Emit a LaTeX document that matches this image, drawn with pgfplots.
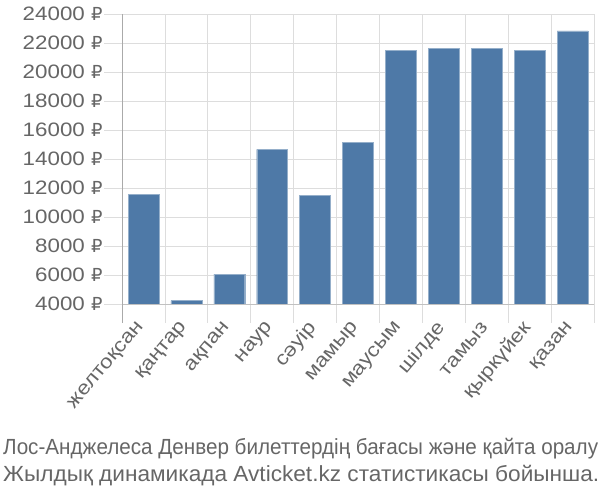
\documentclass[border=0pt]{standalone}
\usepackage{graphicx}
\usepackage{pgfplots}
\pgfplotsset{compat=1.18}
\usepackage{fontspec}
\setmainfont{Liberation Sans}
\newfontfamily\tickfont[FakeStretch=1.15]{Liberation Sans}
\newfontfamily\rubfont{DejaVu Sans}
\definecolor{barblue}{HTML}{4E79A7}
\definecolor{txt}{HTML}{666666}
\definecolor{gridc}{HTML}{DDDDDD}
\definecolor{axc}{HTML}{AAAAAA}
\begin{document}
\begin{tikzpicture}[x=1bp,y=1bp]
\path[use as bounding box] (0,0) rectangle (600,500);
\begin{axis}[
  at={(122bp,196bp)}, anchor=south west,
  width=472bp, height=289.7bp, scale only axis,
  xmin=-0.5, xmax=10.5, ymin=4000, ymax=24000,
  ybar, bar width=0.72,
  axis x line*=bottom, axis y line*=left,
  x axis line style={draw=gridc!70!gray, -},
  y axis line style={draw=axc, -},
  xtick={0,...,10},
  xticklabels={желтоқсан,қаңтар,ақпан,наур,сәуір,мамыр,маусым,шілде,тамыз,қыркүйек,қазан},
  minor xtick={-0.5,0.5,...,10.5},
  xminorgrids=true, ymajorgrids=true,
  grid style={draw=gridc, line width=0.8pt},
  minor grid style={draw=gridc, line width=0.8pt},
  tick align=outside,
  major tick length=18bp, minor tick length=19bp,
  major x tick style={draw=none},
  minor x tick style={draw=gridc, line width=0.8pt},
  major y tick style={draw=gridc, line width=0.8pt},
  ytick={4000,6000,...,24000},
  scaled y ticks=false,
  /pgf/number format/assume math mode=true,
  /pgf/number format/1000 sep={},
  yticklabel={\pgfmathprintnumber{\tick} {\rubfont\fontsize{18}{18}\selectfont ₽}},
  yticklabel style={font=\tickfont\fontsize{19.5}{19.5}\selectfont, text=txt, xshift=2bp},
  xticklabel style={rotate=50, anchor=east, font=\tickfont\fontsize{19.5}{19.5}\selectfont, text=txt},
  clip=true,
]
\addplot[fill=barblue, draw=barblue!60!white, line width=0.4pt] coordinates {
(0,11580) (1,4230) (2,6070) (3,14680) (4,11480) (5,15140)
(6,21490) (7,21660) (8,21660) (9,21490) (10,22850)};
\end{axis}
\draw[axc, line width=0.8pt] (122,196) -- (122,177);
\node[anchor=base west, text=txt, font=\fontsize{22}{22}\selectfont, inner sep=0pt] at (3,45) {\resizebox{595bp}{\height}{Лос-Анджелеса Денвер билеттердің бағасы және қайта оралу}};
\node[anchor=base west, text=txt, font=\fontsize{22}{22}\selectfont, inner sep=0pt] at (3,18) {\resizebox{596bp}{\height}{Жылдық динамикада Avticket.kz статистикасы бойынша.}};
\end{tikzpicture}
\end{document}
